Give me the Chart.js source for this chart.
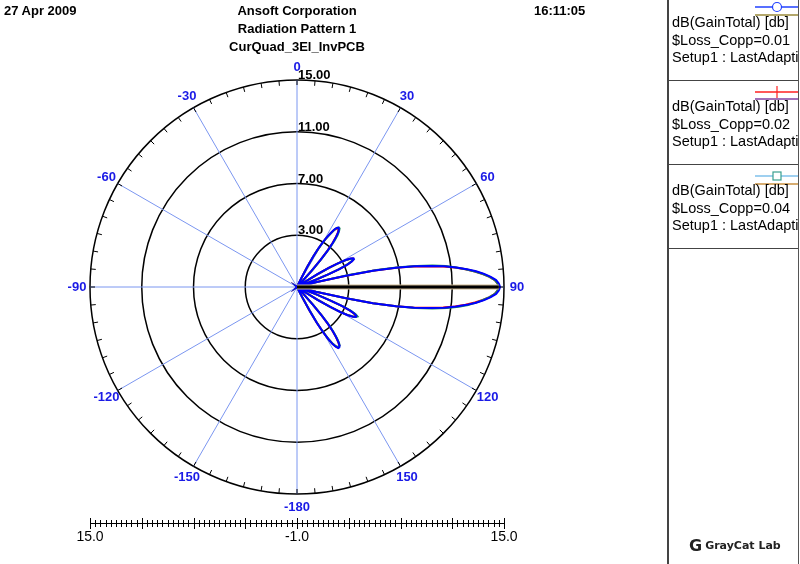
<!DOCTYPE html>
<html>
<head>
<meta charset="utf-8">
<title>Radiation Pattern 1</title>
<script src="https://cdn.jsdelivr.net/npm/chart.js@4.4.0/dist/chart.umd.min.js"></script>
<style>
  body { margin: 0; background: #fff; }
  #wrap { position: relative; width: 800px; height: 564px; overflow: hidden; font-family: "Liberation Sans", Arial, sans-serif; color: #000; }
  #chart { position: absolute; left: 0; top: 0; }
  .hdr { position: absolute; top: 2px; font-weight: bold; font-size: 13px; line-height: 18px; white-space: nowrap; }
  #panel { position: absolute; left: 667px; top: 0; width: 129px; height: 564px; border-left: 2px solid #444; border-right: 1px solid #555; overflow: hidden; }
  .sep { position: absolute; left: 0; width: 100%; height: 0; border-top: 1px solid #444; }
  .entry { position: absolute; left: 3px; font-size: 14.5px; line-height: 17.5px; white-space: nowrap; }
  .mark { position: absolute; left: 0; }
  #logo { position: absolute; left: 20px; top: 536px; font-family: "DejaVu Sans", sans-serif; font-weight: bold; font-size: 11px; white-space: nowrap; color: #222; }
  #logo b { font-size: 16px; vertical-align: -2px; margin-right: 3px; }
</style>
</head>
<body>
<div id="wrap">
  <canvas id="chart" width="800" height="564"></canvas>

  <div class="hdr" style="left:4px;">27 Apr 2009</div>
  <div class="hdr" style="left:197px; width:200px; text-align:center;">Ansoft Corporation<br>Radiation Pattern 1<br>CurQuad_3El_InvPCB</div>
  <div class="hdr" style="left:534px;">16:11:05</div>

  <div id="panel">
    <svg class="mark" style="top:-2px" width="129" height="24">
      <line x1="86" y1="9" x2="129" y2="9" stroke="#2040ff" stroke-width="1.5"/>
      <line x1="86" y1="17" x2="129" y2="17" stroke="#9a8a3a" stroke-width="1.5"/>
      <circle cx="108" cy="9" r="4.5" fill="#fff" stroke="#2040ff" stroke-width="1.2"/>
    </svg>
    <div class="entry" style="top:14px;">dB(GainTotal) [db]<br>$Loss_Copp=0.01<br>Setup1 : LastAdaptive</div>
    <div class="sep" style="top:80px;"></div>

    <svg class="mark" style="top:82px" width="129" height="24">
      <line x1="86" y1="10" x2="129" y2="10" stroke="#ff2020" stroke-width="1.5"/>
      <line x1="86" y1="17" x2="129" y2="17" stroke="#8040a0" stroke-width="1.5"/>
      <line x1="108" y1="4" x2="108" y2="16" stroke="#ff2020" stroke-width="1.2"/>
    </svg>
    <div class="entry" style="top:98px;">dB(GainTotal) [db]<br>$Loss_Copp=0.02<br>Setup1 : LastAdaptive</div>
    <div class="sep" style="top:164px;"></div>

    <svg class="mark" style="top:166px" width="129" height="24">
      <line x1="86" y1="10" x2="129" y2="10" stroke="#9fd0f0" stroke-width="2"/>
      <line x1="86" y1="18" x2="129" y2="18" stroke="#c89040" stroke-width="1.5"/>
      <rect x="104" y="6" width="8" height="8" fill="#fff" stroke="#3aa090" stroke-width="1.2"/>
    </svg>
    <div class="entry" style="top:182px;">dB(GainTotal) [db]<br>$Loss_Copp=0.04<br>Setup1 : LastAdaptive</div>
    <div class="sep" style="top:248px;"></div>

    <div id="logo"><b>G</b>GrayCat Lab</div>
  </div>
</div>

<script>
// one label per degree: 0 at the top, clockwise to 179, then -180..-1 on the left side
const thetaLabels = [];
for (let i = 0; i < 360; i++) thetaLabels.push(i < 180 ? i : i - 360);

// gain in dB, sampled every 1 deg from thetaStart (values at -1 sit at the centre)
const thetaStart = 24;

const loss001 = [
  -1, -1, -0.2, 0.8, 1.7, 2.4, 3.0, 3.5, 3.9, 4.3,          // 24-33
  4.5, 4.6, 4.5, 4.3, 3.9, 3.4, 2.7, 1.8, 0.7, -0.5,         // 34-43
  -1, -1, -1, -1, -1, -1, -1, -1, -1, -1,                    // 44-53
  -1, -1, -1, -0.3, 0.9, 1.9, 2.7, 3.3, 3.7, 3.9,            // 54-63
  3.9, 3.7, 3.3, 2.6, 1.7, 0.5, -0.7, -1, -1, -1,            // 64-73
  -1, -1, 0.5, 2.8, 5.0, 6.8, 8.2, 9.4, 10.5, 11.4,          // 74-83
  12.2, 12.9, 13.5, 14.0, 14.4, 14.6, 14.7, 14.6, 14.4, 14.0, // 84-93
  13.5, 12.9, 12.2, 11.4, 10.5, 9.4, 8.2, 6.8, 5.0, 2.8,     // 94-103
  0.5, -1, -1, -1, -1, -1, -0.6, 0.6, 1.8, 2.8,              // 104-113
  3.5, 3.9, 4.1, 4.1, 3.9, 3.5, 2.9, 2.0, 0.9, -0.4,         // 114-123
  -1, -1, -1, -1, -1, -1, -1, -1, -1, -1,                    // 124-133
  -1, -1, -1, -0.4, 0.8, 1.9, 2.7, 3.4, 3.9, 4.3,            // 134-143
  4.6, 4.7, 4.7, 4.5, 4.2, 3.7, 3.0, 2.2, 1.1, -0.1,         // 144-153
  -1, -1, -1                                                 // 154-156
];

const loss002 = [
  -1, -1, -0.25, 0.75, 1.65, 2.35, 2.95, 3.45, 3.85, 4.25,
  4.45, 4.55, 4.45, 4.25, 3.85, 3.35, 2.65, 1.75, 0.65, -0.55,
  -1, -1, -1, -1, -1, -1, -1, -1, -1, -1,
  -1, -1, -1, -0.35, 0.85, 1.85, 2.65, 3.25, 3.65, 3.85,
  3.85, 3.65, 3.25, 2.55, 1.65, 0.45, -0.75, -1, -1, -1,
  -1, -1, 0.5, 2.8, 5.0, 6.8, 8.1, 9.3, 10.4, 11.3,
  12.1, 12.8, 13.4, 13.9, 14.3, 14.5, 14.6, 14.5, 14.3, 13.9,
  13.4, 12.8, 12.1, 11.3, 10.4, 9.3, 8.1, 6.8, 5.0, 2.8,
  0.5, -1, -1, -1, -1, -1, -0.65, 0.55, 1.75, 2.75,
  3.45, 3.85, 4.05, 4.05, 3.85, 3.45, 2.85, 1.95, 0.85, -0.45,
  -1, -1, -1, -1, -1, -1, -1, -1, -1, -1,
  -1, -1, -1, -0.45, 0.75, 1.85, 2.65, 3.35, 3.85, 4.25,
  4.55, 4.65, 4.65, 4.45, 4.15, 3.65, 2.95, 2.15, 1.05, -0.15,
  -1, -1, -1
];

const loss004 = [
  -1, -1, -0.3, 0.7, 1.6, 2.3, 2.9, 3.4, 3.8, 4.2,
  4.5, 4.6, 4.6, 4.4, 4.1, 3.6, 2.9, 2.0, 0.9, -0.4,
  -1, -1, -1, -1, -1, -1, -1, -1, -1, -1,
  -1, -1, -1, -0.4, 0.8, 1.8, 2.6, 3.2, 3.6, 3.8,
  3.8, 3.6, 3.2, 2.5, 1.6, 0.4, -0.8, -1, -1, -1,
  -1, -1, 0.8, 3.1, 5.3, 7.0, 8.4, 9.6, 10.6, 11.4,
  12.1, 12.8, 13.4, 13.9, 14.3, 14.5, 14.6, 14.5, 14.3, 13.9,
  13.4, 12.9, 12.3, 11.6, 10.7, 9.6, 8.3, 6.8, 5.0, 2.7,
  0.4, -1, -1, -1, -1, -1, -0.6, 0.6, 1.8, 2.9,
  3.6, 4.0, 4.2, 4.1, 3.8, 3.4, 2.8, 1.9, 0.8, -0.5,
  -1, -1, -1, -1, -1, -1, -1, -1, -1, -1,
  -1, -1, -1, -0.3, 0.9, 2.0, 2.9, 3.5, 4.0, 4.4,
  4.6, 4.6, 4.6, 4.4, 4.1, 3.6, 2.9, 2.1, 1.0, -0.2,
  -1, -1, -1
];

// radial ticks (dB) and the marker line drawn out along 90 deg
const rTicks = [-1, 3, 7, 11, 15];
const markerTheta = 90;
const markerValue = 14.6;

function onGrid(vals) {
  const out = new Array(thetaLabels.length).fill(null);
  vals.forEach((v, k) => { out[thetaStart + k] = v; });
  return out;
}

const markerLine = new Array(thetaLabels.length).fill(null);
markerLine[markerTheta - 1] = rTicks[0];
markerLine[markerTheta] = markerValue;

const FONT = '"Liberation Sans", Arial, sans-serif';

// ring ticks, ring values, angle labels and the ruler underneath
const polarExtras = {
  id: 'polarExtras',
  afterDraw(chart) {
    const s = chart.scales.r;
    const c = chart.ctx;
    const R = s.drawingArea;
    c.save();

    c.strokeStyle = '#000';
    c.lineWidth = 1;
    for (let i = 0; i < 360; i += 5) {
      const a = s.getPointPosition(i, R);
      const b = s.getPointPosition(i, R - 5);
      c.beginPath(); c.moveTo(a.x, a.y); c.lineTo(b.x, b.y); c.stroke();
    }

    c.font = 'bold 13px ' + FONT;
    c.fillStyle = '#000';
    c.textAlign = 'left';
    c.textBaseline = 'alphabetic';
    rTicks.slice(1).forEach(v => {
      const d = s.getDistanceFromCenterForValue(v);
      c.fillText(v.toFixed(2), s.xCenter + 1, s.yCenter - d - 1);
    });

    c.fillStyle = '#1a1ae6';
    c.textAlign = 'center';
    c.textBaseline = 'middle';
    for (let i = 0; i < 360; i += 30) {
      const p = s.getPointPosition(i, R + 13);
      c.fillText(String(thetaLabels[i]), p.x, p.y);
    }

    // ruler: -1 in the middle, 15 at both ends
    const y = 523;
    c.strokeStyle = '#000';
    c.beginPath();
    c.moveTo(s.xCenter - R, y + 0.5); c.lineTo(s.xCenter + R, y + 0.5);
    c.stroke();
    for (let k = 0; k <= 40; k++) {
      const d = s.getDistanceFromCenterForValue(rTicks[0] + k * 0.4);
      const h = k % 10 === 0 ? 5 : 3;
      [-1, 1].forEach(sg => {
        const x = Math.round(s.xCenter + sg * d) + 0.5;
        c.beginPath(); c.moveTo(x, y - h); c.lineTo(x, y + h + 1); c.stroke();
      });
    }
    c.font = '14px ' + FONT;
    c.fillStyle = '#000';
    c.fillText(rTicks[4].toFixed(1), s.xCenter - R, 537);
    c.fillText(rTicks[0].toFixed(1), s.xCenter, 537);
    c.fillText(rTicks[4].toFixed(1), s.xCenter + R, 537);

    c.restore();
  }
};

function trace(label, data, color, width) {
  return { label: label, data: data, borderColor: color, borderWidth: width,
           fill: false, pointRadius: 0, tension: 0, spanGaps: false };
}

// first dataset is drawn last (on top)
new Chart(document.getElementById('chart'), {
  type: 'radar',
  data: {
    labels: thetaLabels,
    datasets: [
      trace('marker', markerLine, '#000', 3),
      trace('marker edge', markerLine, '#cbb58e', 5),
      trace('$Loss_Copp=0.01', onGrid(loss001), '#0000ff', 2),
      trace('$Loss_Copp=0.04', onGrid(loss004), '#1f8a5c', 2),
      trace('$Loss_Copp=0.02', onGrid(loss002), '#ff0000', 2)
    ]
  },
  options: {
    responsive: false,
    animation: false,
    layout: { padding: { left: 90, top: 80, right: 296, bottom: 70 } },
    plugins: {
      legend: { display: false },
      tooltip: { enabled: false }
    },
    scales: {
      r: {
        min: rTicks[0],
        max: rTicks[4],
        ticks: { stepSize: 4, display: false },
        grid: { circular: true, color: '#000', lineWidth: 1.5 },
        angleLines: {
          color: '#7b96f0',
          lineWidth: ctx => ctx.index % 30 === 0 ? 1 : 0
        },
        pointLabels: { display: false }
      }
    }
  },
  plugins: [polarExtras]
});
</script>
</body>
</html>
